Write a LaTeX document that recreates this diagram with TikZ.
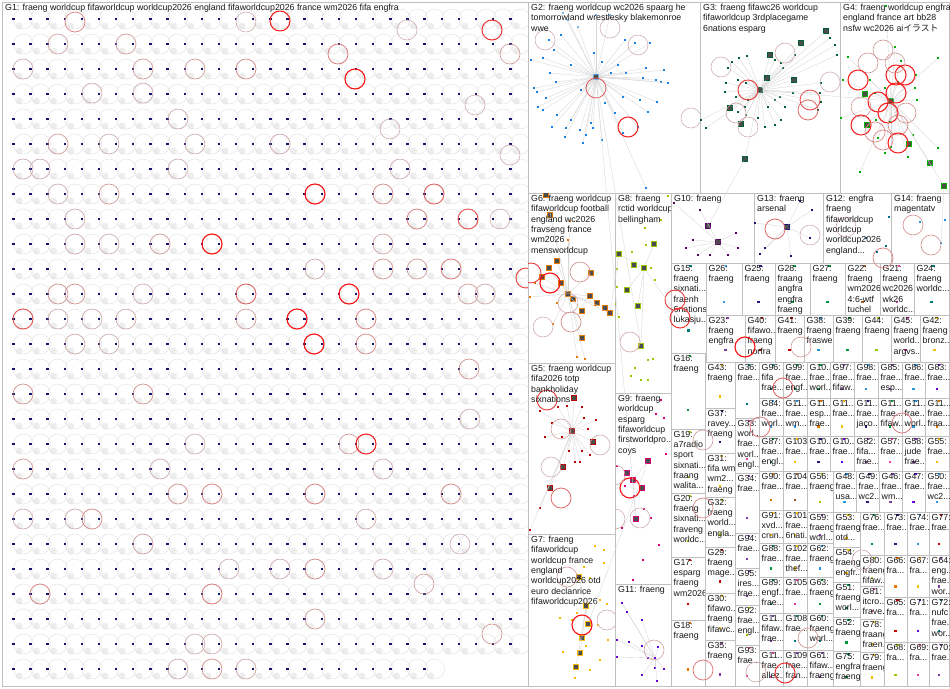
\documentclass[tikz,border=0pt]{standalone}
\usepackage{fontspec}
\setmainfont{Liberation Sans}
\newfontfamily\jpfont{Noto Sans CJK JP}
\usetikzlibrary{positioning}

\definecolor{boxgray}{RGB}{192,192,192}
\definecolor{loopgray}{RGB}{200,182,182}
\definecolor{faintgray}{RGB}{226,226,226}
\definecolor{edgegray}{RGB}{215,215,215}
\definecolor{navydot}{RGB}{20,20,110}
\definecolor{gtwo}{RGB}{20,130,230}
\definecolor{gtwolight}{RGB}{120,185,240}
\definecolor{gthree}{RGB}{0,95,50}
\definecolor{gfour}{RGB}{0,175,0}
\definecolor{gsix}{RGB}{230,120,0}
\definecolor{geight}{RGB}{150,200,0}
\definecolor{gfive}{RGB}{185,0,0}
\definecolor{gseven}{RGB}{250,185,0}
\definecolor{gnine}{RGB}{215,0,120}
\definecolor{geleven}{RGB}{100,0,210}
\definecolor{gten}{RGB}{80,0,90}
\definecolor{gthirteen}{RGB}{20,20,110}
\definecolor{gtwelve}{RGB}{0,110,140}
\definecolor{gfourteen}{RGB}{30,150,230}
% palette for the small groups
\definecolor{pA}{RGB}{230,120,0}
\definecolor{pB}{RGB}{130,60,170}
\definecolor{pC}{RGB}{40,150,230}
\definecolor{pD}{RGB}{0,150,60}
\definecolor{pE}{RGB}{225,60,160}
\definecolor{pF}{RGB}{200,0,0}
\definecolor{pG}{RGB}{245,190,0}
\definecolor{pH}{RGB}{30,30,120}
\definecolor{pI}{RGB}{0,120,130}
\definecolor{pJ}{RGB}{150,200,0}
\definecolor{pK}{RGB}{160,90,40}
\definecolor{pL}{RGB}{110,0,220}

\tikzset{
  grpbox/.style={draw=boxgray, line width=0.9pt},
  grplabel/.style={anchor=north west, inner sep=0pt, align=left, text=black!90,
    font=\fontsize{8.8}{10.3}\selectfont},
  vdot/.style={rectangle, fill=#1, inner sep=0pt, minimum size=2.4pt},
  vsq/.style={rectangle, draw=#1, fill=black!70, line width=0.9pt, inner sep=0pt, minimum size=4.2pt},
  loopc/.code={%
    \pgfmathtruncatemacro\lpct{(#1)*(#1)/100}%
    \edef\lnext{\noexpand\pgfkeysalso{draw=red!\lpct!loopgray, line width=0.5pt+0.007pt*\lpct}}%
    \lnext},
  faintloop/.style={draw=faintgray, line width=0.45pt},
  blur/.style={fill=black!7},
  edgec/.style={draw=edgegray, line width=0.35pt},
}

\begin{document}
\begin{tikzpicture}[x=1pt,y=-1pt]
\useasboundingbox (0,0) rectangle (950,688);
\fill[white] (0,0) rectangle (950,688);

% G1: the grid of isolated vertices
\draw[grpbox] (2,2) rectangle (528,686);
\begin{scope}
  \clip (2,2) rectangle (528,686);
  \foreach \r in {0,...,26}{
    \pgfmathtruncatemacro\lastcol{\r==26 ? 24 : 29}
    \foreach \c in {0,...,\lastcol}{
      \pgfmathsetmacro\vx{13.3+17.14*\c}
      \pgfmathsetmacro\vy{19+25*\r}
      \fill[blur] (\vx+6,\vy+7) circle[radius=3.5pt];
      \draw[faintloop] (\vx+10,\vy) circle[radius=10pt];
      \node[vdot=navydot] (g1v-\r-\c) at (\vx,\vy) {};
    }
  }
  \foreach \cx/\cy/\s in {75/22/55, 246/22/30, 280/21/90, 407/30/30, 492/30/85, 58/44/35, 126/44/40,
      338/54/60, 510/54/40, 23/69/30, 143/69/40, 195/69/40, 246/69/50, 355/79/95, 92/93/30, 143/93/30,
      475/105/30, 178/119/30, 390/129/30, 58/144/40, 109/144/25, 195/144/30, 280/144/35, 510/155/30,
      23/169/30, 40/169/30, 178/169/25, 400/169/30, 109/194/40, 58/194/25, 315/194/95, 383/194/50,
      434/194/70, 75/219/30, 417/219/55, 468/219/75, 500/219/30, 75/244/35, 109/244/30, 160/244/40,
      212/244/95, 383/244/35, 315/269/35, 383/269/45, 417/269/40, 451/269/60, 526/278/80, 58/294/45,
      75/294/45, 143/294/30, 246/294/70, 349/294/95, 468/294/40, 485/294/35, 23/319/75, 58/319/30,
      92/319/30, 126/319/35, 246/319/40, 297/319/95, 366/319/55, 75/344/35, 109/344/30, 314/344/95,
      366/344/50, 469/369/45, 23/394/45, 143/394/45, 470/419/25, 349/444/40, 366/444/90, 195/444/25,
      23/469/40, 160/469/30, 383/469/30, 178/494/45, 212/494/55, 315/494/55, 451/494/50, 23/519/30,
      75/519/30, 92/519/50, 366/519/35, 143/544/40, 460/544/30, 229/569/25, 280/569/30, 315/569/50,
      383/569/30, 40/594/55, 212/594/60, 424/584/40, 315/619/40, 492/634/45, 195/644/25, 212/644/30,
      178/669/30, 212/669/45, 246/669/35}
    \draw[loopc=\s] (\cx,\cy) circle[radius=10pt];
  \node[grplabel] (g1) at (5,4) {G1: fraeng worldcup fifaworldcup worldcup2026 england fifaworldcup2026 france wm2026 fifa engfra};
\end{scope}

% G2
\draw[grpbox] (528,2) rectangle (700,193);
\begin{scope}
  \clip (528,2) rectangle (700,193);
  \node[vsq=gtwo] (g2hub) at (596,77) {};
  \foreach \x/\y [count=\i] in {531/60, 534/88, 537/92, 538/107, 543/58, 543/110, 546/98, 549/40,
      550/73, 552/127, 554/50, 556/82, 557/115, 561/35, 565/137, 566/128, 571/65, 571/120, 580/130,
      581/90, 583/143, 586/135, 591/123, 594/53, 593/128, 602/62, 602/140, 605/103, 611/73, 615/113,
      618/65, 623/97, 623/133, 625/40, 626/73, 635/43, 638/127, 640/100, 643/78, 646/68, 648/112,
      650/43, 656/80, 657/102, 661/82, 664/70, 668/83, 646/188}{
    \node[vdot=gtwo] (g2v\i) at (\x,\y) {};
    \draw[edgec] (g2hub) -- (g2v\i);
  }
  \foreach \x/\y [count=\i] in {563/13, 596/15, 610/15, 568/20, 578/27}{
    \node[vdot=gtwolight] (g2w\i) at (\x,\y) {};
    \draw[edgec] (g2hub) -- (g2w\i);
  }
  \foreach \cx/\cy/\s in {596/88/70, 628/127/90, 545/40/25, 638/45/25, 610/28/20, 691/118/20}
    \draw[loopc=\s] (\cx,\cy) circle[radius=10pt];
  \node[grplabel] (g2) at (531,4) {G2: fraeng worldcup wc2026 spaarg he\\tomorrowland wrestlesky blakemonroe\\wwe};
\end{scope}

% G3
\draw[grpbox] (700,2) rectangle (840,193);
\begin{scope}
  \clip (700,2) rectangle (840,193);
  \node[vsq=gthree] (g3hub) at (760,90) {};
  \foreach \x/\y [count=\i] in {739/58, 747/56, 732/62, 728/68, 726/83, 725/92, 738/80, 746/83,
      736/97, 748/100, 746/115, 758/118, 765/127, 775/125, 781/120, 768/107, 775/100, 780/97, 775/60,
      781/63, 783/68, 793/93, 785/107, 795/55, 821/83, 820/93, 821/102, 818/110, 830/38, 835/45,
      837/55, 701/120, 706/128, 738/112, 745/107}{
    \node[vdot=gthree] (g3v\i) at (\x,\y) {};
    \draw[edgec] (g3hub) -- (g3v\i);
  }
  \foreach \x/\y [count=\i] in {770/55, 801/43, 794/80, 767/78, 730/108, 741/124, 745/159, 826/31}{
    \node[vsq=gthree] (g3s\i) at (\x,\y) {};
    \draw[edgec] (g3hub) -- (g3s\i);
  }
  \foreach \cx/\cy/\s in {748/90/80, 810/100/75, 808/110/65, 785/53/30, 721/67/25, 736/113/35, 748/127/30, 830/82/20}
    \draw[loopc=\s] (\cx,\cy) circle[radius=10pt];
  \node[grplabel] (g3) at (703,4) {G3: fraeng fifawc26 worldcup\\fifaworldcup 3rdplacegame\\6nations esparg};
\end{scope}

% G4
\draw[grpbox] (840,2) rectangle (949,193);
\begin{scope}
  \clip (840,2) rectangle (949,193);
  \node[vsq=gfour] (g4hub) at (891,101) {};
  \foreach \x/\y [count=\i] in {895/47, 901/61, 916/75, 915/88, 917/100, 938/58, 848/57, 843/80,
      870/80, 841/118, 875/93, 885/88, 898/82, 876/120, 890/122, 913/135, 908/157, 891/147, 878/138,
      885/153, 860/172, 938/148, 886/6}{
    \node[vdot=gfour] (g4v\i) at (\x,\y) {};
    \draw[edgec] (g4hub) -- (g4v\i);
  }
  \foreach \x/\y [count=\i] in {865/94, 867/125, 909/144, 930/163, 944/186}{
    \node[vsq=gfour] (g4s\i) at (\x,\y) {};
    \draw[edgec] (g4hub) -- (g4s\i);
  }
  \foreach \cx/\cy/\s in {883/50/40, 868/63/40, 858/80/90, 905/75/90, 896/75/90, 896/93/90, 878/102/90,
      888/113/90, 861/125/90, 875/132/50, 898/125/50, 898/143/90, 883/140/50, 906/113/45, 861/107/40, 895/63/40}
    \draw[loopc=\s] (\cx,\cy) circle[radius=10pt];
  \node[grplabel] (g4) at (843,4) {G4: fraeng worldcup engfra\\england france art bb28\\nsfw wc2026 ai{\jpfont イラスト}};
\end{scope}

% G6
\draw[grpbox] (528,193) rectangle (615,363);
\begin{scope}
  \clip (528,193) rectangle (615,363);
  \node[vsq=gsix] (g6hub) at (568,294) {};
  \foreach \x/\y [count=\i] in {557/261, 549/268, 542/277, 561/283, 573/299, 590/296, 582/311,
      597/303, 591/273, 605/308, 610/313, 582/338, 550/215, 546/195}{
    \node[vsq=gsix] (g6s\i) at (\x,\y) {};
    \draw[edgec] (g6hub) -- (g6s\i);
  }
  \foreach \x/\y [count=\i] in {535/283, 553/324, 530/297, 557/303, 568/240, 570/221, 577/357, 585/359}{
    \node[vdot=gsix] (g6v\i) at (\x,\y) {};
    \draw[edgec] (g6hub) -- (g6v\i);
  }
  \foreach \cx/\cy/\s in {550/283/95, 531/273/80, 580/272/45, 571/322/50, 568/303/30, 543/327/30}
    \draw[loopc=\s] (\cx,\cy) circle[radius=10pt];
  \node[grplabel] (g6) at (531,195) {G6: fraeng worldcup\\fifaworldcup football\\england wc2026\\fravseng france\\wm2026\\mensworldcup};
\end{scope}

% G8
\draw[grpbox] (615,193) rectangle (671,393);
\begin{scope}
  \clip (615,193) rectangle (671,393);
  \node[vsq=geight] (g8hub) at (644,268) {};
  \foreach \x/\y [count=\i] in {619/254, 634/265, 654/244, 627/290, 638/306, 641/346}{
    \node[vsq=geight] (g8s\i) at (\x,\y) {};
    \draw[edgec] (g8hub) -- (g8s\i);
  }
  \foreach \x/\y [count=\i] in {645/228, 646/245, 632/252, 617/269, 651/268, 655/280, 617/287,
      615/304, 619/317, 661/220, 668/196, 648/360, 653/359, 635/368, 641/380, 648/380, 631/376}{
    \node[vdot=geight] (g8v\i) at (\x,\y) {};
  }
  \draw[loopc=35] (630,342) circle[radius=10pt];
  \node[grplabel] (g8) at (618,195) {G8: fraeng\\rctid worldcup\\bellingham};
\end{scope}

% G5
\draw[grpbox] (528,363) rectangle (615,534);
\begin{scope}
  \clip (528,363) rectangle (615,534);
  \node[vsq=gfive] (g5hub) at (572,431) {};
  \foreach \x/\y [count=\i] in {574/398, 593/442, 563/467, 550/488}{
    \node[vsq=gfive] (g5s\i) at (\x,\y) {};
    \draw[edgec] (g5hub) -- (g5s\i);
  }
  \foreach \x/\y [count=\i] in {540/411, 558/407, 552/423, 567/406, 582/407, 562/437, 545/437,
      588/429, 569/451, 580/462, 582/451, 590/455, 575/462, 596/420, 584/418, 540/508, 530/530}{
    \node[vdot=gfive] (g5v\i) at (\x,\y) {};
    \draw[edgec] (g5hub) -- (g5v\i);
  }
  \foreach \cx/\cy/\s in {547/400/80, 561/429/35, 600/445/30, 551/467/25, 561/498/65}
    \draw[loopc=\s] (\cx,\cy) circle[radius=10pt];
  \node[grplabel] (g5) at (531,365) {G5: fraeng worldcup\\fifa2026 totp\\bankholiday\\sixnations};
\end{scope}

% G7
\draw[grpbox] (528,534) rectangle (615,686);
\begin{scope}
  \clip (528,534) rectangle (615,686);
  \node[vsq=gseven] (g7hub) at (586,606) {};
  \foreach \x/\y [count=\i] in {579/577, 588/624, 582/638, 580/653, 576/667}{
    \node[vsq=gseven] (g7s\i) at (\x,\y) {};
    \draw[edgec] (g7hub) -- (g7s\i);
  }
  \foreach \x/\y [count=\i] in {595/546, 604/550, 604/563, 584/567, 590/578, 600/600, 607/604,
      577/613, 560/618, 598/625, 572/620, 608/640, 586/646, 563/652, 600/660, 590/670, 575/678}{
    \node[vdot=gseven] (g7v\i) at (\x,\y) {};
  }
  \foreach \cx/\cy/\s in {582/625/95, 567/577/40, 607/620/25}
    \draw[loopc=\s] (\cx,\cy) circle[radius=10pt];
  \node[grplabel] (g7) at (531,536) {G7: fraeng\\fifaworldcup\\worldcup france\\england\\worldcup2026 otd\\euro declanrice\\fifaworldcup2026};
\end{scope}

% G9
\draw[grpbox] (615,393) rectangle (671,584);
\begin{scope}
  \clip (615,393) rectangle (671,584);
  \node[vsq=gnine] (g9hub) at (633,480) {};
  \foreach \x/\y [count=\i] in {648/461, 627/473, 642/488, 636/519}{
    \node[vsq=gnine] (g9s\i) at (\x,\y) {};
    \draw[edgec] (g9hub) -- (g9s\i);
  }
  \foreach \x/\y [count=\i] in {661/400, 656/414, 664/418, 666/454, 617/466, 634/496, 625/486,
      644/509, 651/518, 622/528, 643/560, 659/545, 633/580}{
    \node[vdot=gnine] (g9v\i) at (\x,\y) {};
  }
  \foreach \cx/\cy/\s in {630/488/95, 615/475/30, 615/519/30, 640/518/25}
    \draw[loopc=\s] (\cx,\cy) circle[radius=10pt];
  \node[grplabel] (g9) at (618,395) {G9: fraeng\\worldcup\\esparg\\fifaworldcup\\firstworldpro...\\coys};
\end{scope}

% G11
\draw[grpbox] (615,584) rectangle (671,686);
\begin{scope}
  \clip (615,584) rectangle (671,686);
  \node[vdot=geleven] (g11hub) at (655,658) {};
  \foreach \x/\y [count=\i] in {622/603, 627/612, 642/620, 617/640, 629/642, 642/646, 617/657,
      648/658, 658/647, 655/668, 642/675, 657/681, 664/669}{
    \node[vdot=geleven] (g11v\i) at (\x,\y) {};
    \draw[edgec] (g11hub) -- (g11v\i);
  }
  \draw[loopc=35] (654,650) circle[radius=10pt];
  \node[grplabel] (g11) at (618,586) {G11: fraeng};
\end{scope}

% G10, G13, G12, G14
\draw[grpbox] (671,193) rectangle (754,263);
\begin{scope}
  \clip (671,193) rectangle (754,263);
  \node[vsq=gten] (g10s1) at (708,226) {};
  \node[vsq=gten] (g10s2) at (718,242) {};
  \foreach \x/\y [count=\i] in {700/210, 686/248, 736/233, 738/248, 710/255, 728/255, 698/255, 674/203, 693/240}{
    \node[vdot=gten] (g10v\i) at (\x,\y) {};
    \draw[edgec] (g10s2) -- (g10v\i);
  }
  \node[grplabel] (g10) at (674,195) {G10: fraeng};
\end{scope}
\draw[grpbox] (754,193) rectangle (823,263);
\begin{scope}
  \clip (754,193) rectangle (823,263);
  \node[vsq=gthirteen] (g13hub) at (787,227) {};
  \foreach \x/\y [count=\i] in {755/223, 760/254, 765/248, 791/256, 810/238, 812/210, 800/201}{
    \node[vdot=gthirteen] (g13v\i) at (\x,\y) {};
    \draw[edgec] (g13hub) -- (g13v\i);
  }
  \draw[loopc=65] (775,229) circle[radius=10pt];
  \draw[loopc=25] (810,235) circle[radius=10pt];
  \node[grplabel] (g13) at (757,195) {G13: fraeng\\arsenal};
\end{scope}
\draw[grpbox] (823,193) rectangle (891,263);
\begin{scope}
  \clip (823,193) rectangle (891,263);
  \foreach \x/\y [count=\i] in {889/217, 877/252, 886/246, 866/238}
    \node[vdot=gtwelve] (g12v\i) at (\x,\y) {};
  \draw[loopc=30] (846,227) circle[radius=10pt];
  \node[grplabel] (g12) at (826,195) {G12: engfra\\fraeng\\fifaworldcup\\worldcup\\worldcup2026\\england...};
\end{scope}
\draw[grpbox] (891,193) rectangle (949,263);
\begin{scope}
  \clip (891,193) rectangle (949,263);
  \foreach \x/\y [count=\i] in {945/220, 941/243, 920/222}
    \node[vdot=gfourteen] (g14v\i) at (\x,\y) {};
  \draw[loopc=45] (913,225) circle[radius=10pt];
  \draw[loopc=45] (931,245) circle[radius=10pt];
  \node[grplabel] (g14) at (894,195) {G14: fraeng\\magentatv};
\end{scope}

% the small groups
\foreach \id/\xa/\ya/\xb/\yb/\cl/\txt in {
    15/671/263/706/353/pI/{G15:\\fraeng\\sixnati...\\fraenh\\6nations\\lukasju...},
    26/706/263/742/315/pC/{G26:\\fraeng}, 25/742/263/775/315/pH/{G25:\\fraeng},
    28/775/263/810/315/pD/{G28:\\fraang\\angfra\\engfra\\fraeng}, 27/810/263/845/315/pD/{G27:\\fraeng},
    22/845/263/880/315/pK/{G22:\\fraeng\\wm2026\\4:6-wtf\\tuchel},
    21/880/263/914/315/pE/{G21:\\fraeng\\wc2026\\wk26\\worldc...}, 24/914/263/949/315/pI/{G24:\\fraeng\\worldc...},
    23/706/315/745/362/pB/{G23:\\fraeng\\engfra}, 40/745/315/775/362/pF/{G40:\\fifawo...\\fraeng\\norfra},
    41/775/315/804/362/pF/{G41:\\fraeng}, 38/804/315/833/362/pC/{G38:\\fraeng\\fraswe},
    39/833/315/862/362/pD/{G39:\\fraeng}, 44/862/315/891/362/pJ/{G44:\\fraeng},
    45/891/315/920/362/pE/{G45:\\fraeng\\world...\\argvs...}, 42/920/315/949/362/pG/{G42:\\fraeng\\bronz...},
    16/671/353/705/429/pD/{G16:\\fraeng}, 19/671/429/705/493/pJ/{G19:\\a7radio\\sport\\sixnati...\\fraang\\walita...},
    20/671/493/705/557/pJ/{G20:\\fraeng\\sixnati...\\fraveng\\worldc...}, 17/671/557/705/620/pF/{G17:\\esparg\\fraeng\\wm2026},
    18/671/620/705/686/pA/{G18:\\fraeng},
    43/705/362/735/408/pG/{G43:\\fraeng}, 37/705/408/735/453/pH/{G37:\\ravey...\\fraeng},
    31/705/453/735/497/pG/{G31:\\fifa wm\\wm2...\\fraeng}, 32/705/497/735/547/pJ/{G32:\\fraeng\\world...\\engla...},
    29/705/547/735/593/pF/{G29:\\fraeng\\mage...}, 30/705/593/735/640/pG/{G30:\\fifawo...\\fraeng\\fifawc...},
    35/705/640/735/686/pB/{G35:\\fraeng},
    36/735/362/759/418/pI/{G36:\\frae...}, 33/735/418/759/473/pE/{G33:\\worl...\\frae...\\worl...\\engl...},
    34/735/473/759/533/pB/{G34:\\frae...}, 94/735/533/759/568/pB/{G94:\\frae...},
    95/735/568/759/605/pB/{G95:\\ires...\\frae...}, 92/735/605/759/645/pJ/{G92:\\frae...\\engl...},
    93/735/645/759/686/pE/{G93:\\frae...},
    96/759/362/783/398/pI/{G96:\\fifa\\frae...}, 84/759/398/783/436/pC/{G84:\\frae...\\worl...},
    87/759/436/783/471/pD/{G87:\\frae...\\engl...}, 90/759/471/783/510/pA/{G90:\\frae...},
    91/759/510/783/543/pG/{G91:\\xvd...\\crun...}, 88/759/543/783/577/pD/{G88:\\frae...},
    89/759/577/783/613/pD/{G89:\\engf...\\frae...}, 110/759/613/783/650/pB/{G11...\\fifaw...\\frae...},
    111/759/650/783/686/pE/{G11...\\frae...\\allez...},
    99/783/362/807/398/pD/{G99:\\frae...\\engf...}, 112/783/398/807/436/pC/{G11...\\frae...\\wm...},
    103/783/436/807/471/pG/{G103:\\frae...}, 104/783/471/807/510/pK/{G104:\\frae...},
    101/783/510/807/543/pG/{G101:\\frae...\\6nati...}, 102/783/543/807/577/pG/{G102:\\frae...\\thef...},
    105/783/577/807/613/pE/{G105:\\frae...}, 108/783/613/807/650/pI/{G108:\\frae...},
    109/783/650/807/686/pB/{G109:\\frae...\\fran...},
    100/807/362/830/398/pD/{G10...\\frae...\\worl...}, 113/807/398/830/436/pA/{G11...\\esp...\\frae...},
    106/807/436/830/471/pH/{G10...\\frae...}, 56/807/471/833/512/pJ/{G56:\\fraeng},
    59/807/512/833/543/pB/{G59:\\fraeng\\worl...}, 62/807/543/833/577/pC/{G62:\\fraeng},
    63/807/577/833/613/pD/{G63:\\fraeng}, 60/807/613/833/650/pI/{G60:\\fraeng\\worl...},
    61/807/650/833/686/pB/{G61:\\fifaw...\\fraeng},
    97/830/362/854/398/pB/{G97:\\frae...\\fifaw...}, 98/854/362/878/398/pC/{G98:\\frae...},
    85/878/362/902/398/pB/{G85:\\frae...\\esp...}, 86/902/362/925/398/pC/{G86:\\frae...},
    83/925/362/949/398/pL/{G83:\\frae...},
    114/830/398/854/436/pG/{G11...\\frae...}, 115/854/398/878/436/pH/{G11...\\frae...\\jaco...},
    116/878/398/902/436/pD/{G11...\\frae...\\fifaw...}, 117/902/398/925/436/pC/{G11...\\frae...\\worl...},
    118/925/398/949/436/pA/{G11...\\frae...\\fraa...},
    107/830/436/854/471/pL/{G10...\\frae...}, 82/854/436/878/471/pB/{G82:\\fifa...\\frae...},
    57/878/436/902/471/pE/{G57:\\frae...}, 58/902/436/925/471/pB/{G58:\\jude\\frae...},
    55/925/436/949/471/pG/{G55:\\frae...},
    48/833/471/856/512/pC/{G48:\\frae...\\usa...}, 49/856/471/879/512/pH/{G49:\\frae...\\wc2...},
    46/879/471/902/512/pB/{G46:\\frae...\\wm...}, 47/902/471/925/512/pL/{G47:\\frae...},
    50/925/471/949/512/pC/{G50:\\frae...\\wc2...},
    53/833/512/860/547/pG/{G53:\\fraeng\\otd...}, 54/833/547/860/582/pG/{G54:\\fraeng\\engfr...},
    51/833/582/860/617/pD/{G51:\\fraeng\\worl...}, 52/833/617/860/651/pD/{G52:\\fraeng},
    75/833/651/860/686/pD/{G75:\\engfra\\fraeng},
    76/860/512/884/555/pD/{G76:\\frae...}, 80/860/555/884/586/pJ/{G80:\\fraeng\\fifaw...},
    81/860/586/884/619/pE/{G81:\\itcro...\\frave...}, 78/860/619/884/652/pG/{G78:\\fraang\\fraen...},
    79/860/652/884/686/pG/{G79:\\fraeng},
    73/884/512/907/555/pH/{G73:\\frae...}, 74/907/512/929/555/pC/{G74:\\frae...},
    77/929/512/949/555/pF/{G77:\\frae...},
    66/884/555/907/597/pA/{G66:\\fra...}, 67/907/555/929/597/pG/{G67:\\fra...},
    64/929/555/949/597/pB/{G64:\\eng...\\frae...\\wor...},
    65/884/597/907/642/pF/{G65:\\fra...}, 71/907/597/929/642/pL/{G71:\\fra...},
    72/929/597/949/642/pI/{G72:\\nufc\\frae...\\wor...},
    68/884/642/907/686/pJ/{G68:\\fra...}, 69/907/642/929/686/pE/{G69:\\fra...},
    70/929/642/949/686/pB/{G70:\\frae...}}{
  \draw[grpbox] (\xa,\ya) rectangle (\xb,\yb);
  \begin{scope}
    \clip (\xa,\ya) rectangle (\xb,\yb);
    \node[vdot=\cl] (g\id-a) at ({(\xa+\xb)/2+2},\ya+3) {};
    \node[vdot=\cl] (g\id-b) at ({(\xa+\xb)/2},{\ya+0.75*(\yb-\ya)}) {};
    \node[grplabel] (g\id) at (\xa+2.5,\ya+2) {\txt};
  \end{scope}
}

% loops of the small groups
\foreach \cx/\cy/\s in {675/300/80, 680/318/85, 745/347/95, 801/347/40, 783/388/70, 760/427/60,
    902/423/60, 703/440/40, 703/508/50, 703/670/60, 785/673/85, 756/672/35, 808/638/45, 862/560/30, 883/258/55}
  \draw[loopc=\s] (\cx,\cy) circle[radius=10pt];

% edges between groups
\draw[edgec] (g2hub) -- (g8s6);
\draw[edgec] (g2hub) -- (g9s4);
\draw[edgec] (g3s7) -- (g10s1);
\draw[edgec] (g3hub) -- (g4hub);
\draw[edgec] (g9s1) -- (g7s2);
\draw[edgec] (g8s1) -- (g6s11);
\draw[edgec] (g4s5) -- (g14v2);
\draw[edgec] (g8hub) -- (g15-b);

\end{tikzpicture}
\end{document}
